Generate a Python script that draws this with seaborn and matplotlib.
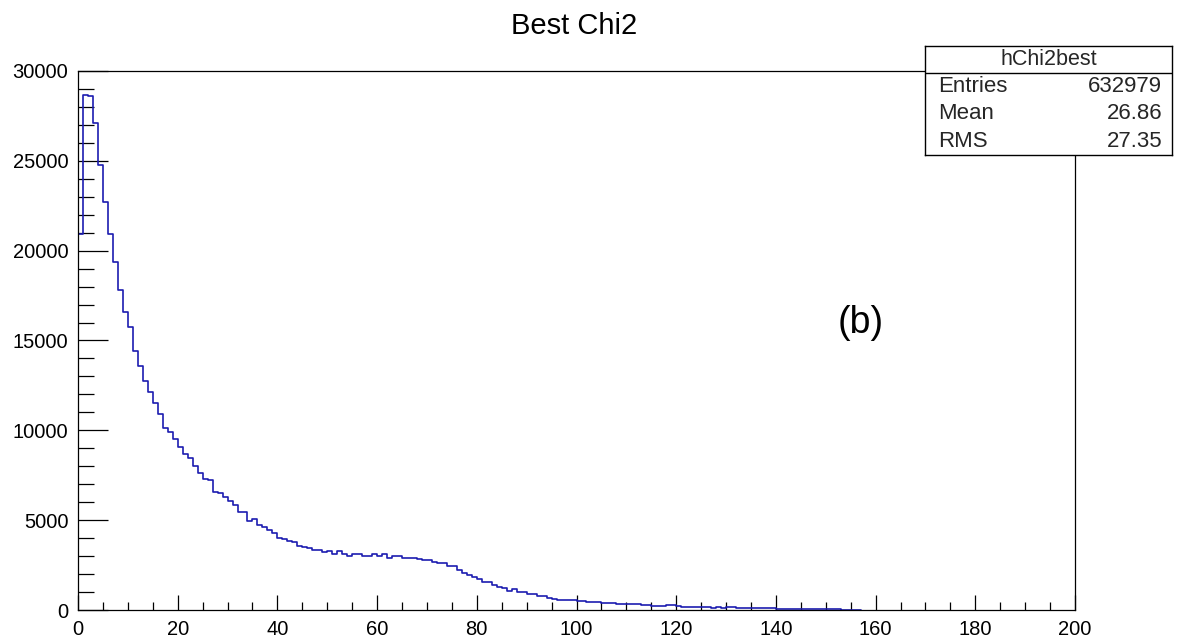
import numpy as np
import pandas as pd
import matplotlib
matplotlib.use("Agg")
import matplotlib.pyplot as plt
from matplotlib.ticker import MultipleLocator
import seaborn as sns

# Histogram content: one bin per unit of chi2, starting at 0
bin_width = 1.0
counts = [
    20950, 28650, 28600, 27130, 24760, 22700, 20920, 19350, 17810, 16570,
    15730, 14430, 13600, 12730, 12130, 11540, 10900, 10130, 9890, 9530,
    9050, 8680, 8460, 8010, 7610, 7280, 7260, 6580, 6490, 6310,
    6080, 5840, 5450, 5430, 4970, 5045, 4730, 4640, 4450, 4265,
    4025, 3950, 3860, 3765, 3580, 3525, 3430, 3350, 3330, 3245,
    3300, 3115, 3300, 3110, 3030, 3120, 3110, 3030, 3020, 3115,
    3030, 3115, 2895, 3025, 3020, 2900, 2895, 2890, 2820, 2765,
    2760, 2690, 2600, 2595, 2450, 2445, 2226, 2080, 1935, 1840,
    1710, 1560, 1555, 1391, 1299, 1205, 1076, 1150, 985, 980,
    875, 870, 780, 775, 686, 612, 560, 556, 552, 550,
    505, 500, 430, 427, 425, 375, 371, 368, 318, 315,
    314, 312, 310, 295, 290, 240, 236, 205, 270, 262,
    195, 190, 185, 182, 178, 175, 170, 130, 150, 125,
    150, 140, 120, 115, 100, 98, 95, 92, 88, 85,
    50, 60, 80, 45, 40, 38, 36, 35, 33, 32,
    30, 30, 28, 26, 25, 22, 20,
]

hist_name = "hChi2best"
stat_labels = ["Entries", "Mean", "RMS"]
stat_values = ["632979", "26.86", "27.35"]
title = "Best Chi2"
panel_tag = "(b)"

sns.set_theme(style="white")
plt.rcParams["font.family"] = ["Liberation Sans", "DejaVu Sans"]

fig = plt.figure(figsize=(11.84, 6.39), dpi=100)
ax = fig.add_axes([78 / 1184, 1 - 610 / 639, 997 / 1184, 539 / 639])

n = len(counts)
df = pd.DataFrame({"chi2": np.arange(n) * bin_width + bin_width / 2,
                   "count": np.asarray(counts, dtype=float)})

sns.histplot(data=df, x="chi2", weights="count", binwidth=bin_width,
             binrange=(0, n * bin_width), element="step", fill=False,
             color="#1c1cb0", linewidth=1.2, ax=ax)
ax.set_xlabel("")
ax.set_ylabel("")

ax.set_xlim(0, 200)
ax.set_ylim(0, 30000)
ax.xaxis.set_major_locator(MultipleLocator(20))
ax.xaxis.set_minor_locator(MultipleLocator(5))
ax.yaxis.set_major_locator(MultipleLocator(5000))
ax.yaxis.set_minor_locator(MultipleLocator(1000))

ax.tick_params(axis="both", which="both", direction="in", color="black",
               width=0.9, labelsize=14.5, labelcolor="black",
               top=False, right=False, bottom=True, left=True)
ax.tick_params(axis="y", which="major", length=21.6, pad=7)
ax.tick_params(axis="y", which="minor", length=11.5)
ax.tick_params(axis="x", which="major", length=11, pad=7)
ax.tick_params(axis="x", which="minor", length=5.5)
for s in ax.spines.values():
    s.set_color("black")
    s.set_linewidth(0.9)
    s.set_visible(True)

fig.text(574 / 1184, 1 - 26 / 639, title, ha="center", va="center",
         fontsize=21, color="black")
ax.text(0.785, 0.532, panel_tag, transform=ax.transAxes, ha="center",
        va="center", fontsize=27, color="black")

# Statistics box
box = fig.add_axes([925 / 1184, 1 - 155 / 639, 247 / 1184, 109 / 639])
box.set_facecolor("white")
box.set_xticks([])
box.set_yticks([])
box.set_xlim(0, 1)
box.set_ylim(0, 1)
for s in box.spines.values():
    s.set_color("black")
    s.set_linewidth(1.0)
    s.set_visible(True)
box.axhline(0.752, color="black", linewidth=1.0)
box.text(0.5, 0.88, hist_name, ha="center", va="center", fontsize=15.5)
for ypos, lab, val in zip([0.624, 0.385, 0.128], stat_labels, stat_values):
    box.text(0.053, ypos, lab, ha="left", va="center", fontsize=16)
    box.text(0.96, ypos, val, ha="right", va="center", fontsize=16)

fig.savefig("out.png", dpi=100, facecolor="white")
